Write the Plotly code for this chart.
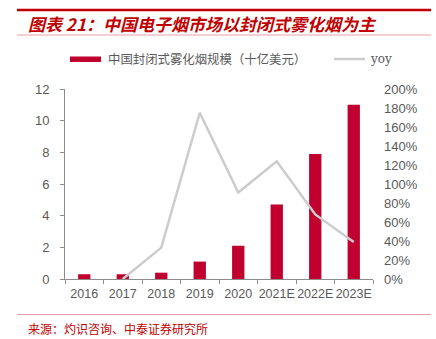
import plotly.graph_objects as go

# Chinese closed-system vapor market size and growth
years = ["2016", "2017", "2018", "2019", "2020", "2021E", "2022E", "2023E"]
market_size = [0.3, 0.3, 0.4, 1.1, 2.1, 4.7, 7.9, 11.0]   # billion USD
yoy = [None, 0, 33, 175, 91, 124, 68, 39]                  # percent
bar_name = "中国封闭式雾化烟规模（十亿美元）"
line_name = "yoy"

RED = "#C0002F"
GREY_LINE = "#CCCCCC"
TEXT = "#595959"
AXIS = "#8C8C8C"
TITLE_RED = "#C00000"
RULE_PINK = "#E8A0A8"

# plot-area geometry in pixels, used to place the header / legend / footer
W, H = 436, 339
L, R, T, B = 65, 63, 89, 60
PW, PH = W - L - R, H - T - B


def px(x):
    return (x - L) / PW


def py(y):
    return (H - B - y) / PH


fig = go.Figure()
fig.add_trace(go.Bar(
    x=years, y=market_size, name=bar_name,
    marker=dict(color=RED, line=dict(width=0)),
    yaxis="y", showlegend=False,
))
fig.add_trace(go.Scatter(
    x=years, y=yoy, name=line_name, mode="lines",
    line=dict(color=GREY_LINE, width=2.5),
    yaxis="y2", connectgaps=False, showlegend=False,
))

fig.update_layout(
    width=W, height=H,
    margin=dict(l=L, r=R, t=T, b=B),
    paper_bgcolor="white", plot_bgcolor="white",
    bargap=0.68,
    font=dict(family="Liberation Sans, Arial", size=13, color=TEXT),
    xaxis=dict(
        type="category", showgrid=False, showline=True, linecolor=AXIS, linewidth=1,
        ticks="outside", tickson="boundaries", ticklen=4, tickcolor=AXIS,
        tickangle=0, tickfont=dict(size=12.5, color=TEXT), ticklabelstandoff=3,
    ),
    yaxis=dict(
        range=[0, 12], dtick=2, showgrid=False, zeroline=False,
        showline=True, linecolor=AXIS, linewidth=1,
        ticks="outside", ticklen=4, tickcolor=AXIS,
        tickfont=dict(size=13, color=TEXT), ticklabelstandoff=8,
    ),
    yaxis2=dict(
        range=[0, 200], dtick=20, ticksuffix="%", overlaying="y", side="right",
        showgrid=False, zeroline=False, showline=False, ticks="",
        tickfont=dict(size=13, color=TEXT), ticklabelstandoff=10,
    ),
)

# legend drawn by hand: wide red swatch and grey line sample
fig.add_shape(type="rect", xref="paper", yref="paper",
              x0=px(70), x1=px(101), y0=py(62), y1=py(56.5),
              fillcolor=RED, line=dict(width=0))
fig.add_annotation(text=bar_name, xref="paper", yref="paper",
                   x=px(106), xanchor="left", y=py(59), yanchor="middle",
                   showarrow=False,
                   font=dict(family="Noto Sans CJK SC", size=12.4, color=TEXT))
fig.add_shape(type="line", xref="paper", yref="paper",
              x0=px(334), x1=px(365), y0=py(59), y1=py(59),
              line=dict(color=GREY_LINE, width=2.5))
fig.add_annotation(text=line_name, xref="paper", yref="paper",
                   x=px(368), xanchor="left", y=py(59), yanchor="middle",
                   showarrow=False,
                   font=dict(family="DejaVu Serif", size=12, color=TEXT))

# header rules and title
fig.add_shape(type="line", xref="paper", yref="paper", x0=px(17), x1=px(431),
              y0=py(10), y1=py(10), line=dict(color=TITLE_RED, width=2.5))
fig.add_shape(type="line", xref="paper", yref="paper", x0=px(17), x1=px(431),
              y0=py(35), y1=py(35), line=dict(color=RULE_PINK, width=1))
fig.add_annotation(text="<b><i>图表 21：中国电子烟市场以封闭式雾化烟为主</i></b>",
                   xref="paper", yref="paper", x=px(26), xanchor="left",
                   y=py(23), yanchor="middle", showarrow=False,
                   font=dict(family="Noto Sans CJK SC", size=17, color=TITLE_RED))

# footer rule and source
fig.add_shape(type="line", xref="paper", yref="paper", x0=px(17), x1=px(431),
              y0=py(314.5), y1=py(314.5), line=dict(color=RULE_PINK, width=1))
fig.add_annotation(text="来源：灼识咨询、中泰证券研究所",
                   xref="paper", yref="paper", x=px(26), xanchor="left",
                   y=py(328), yanchor="middle", showarrow=False,
                   font=dict(family="Noto Sans CJK SC", size=12, color=TITLE_RED))

fig.write_html("out.html")
